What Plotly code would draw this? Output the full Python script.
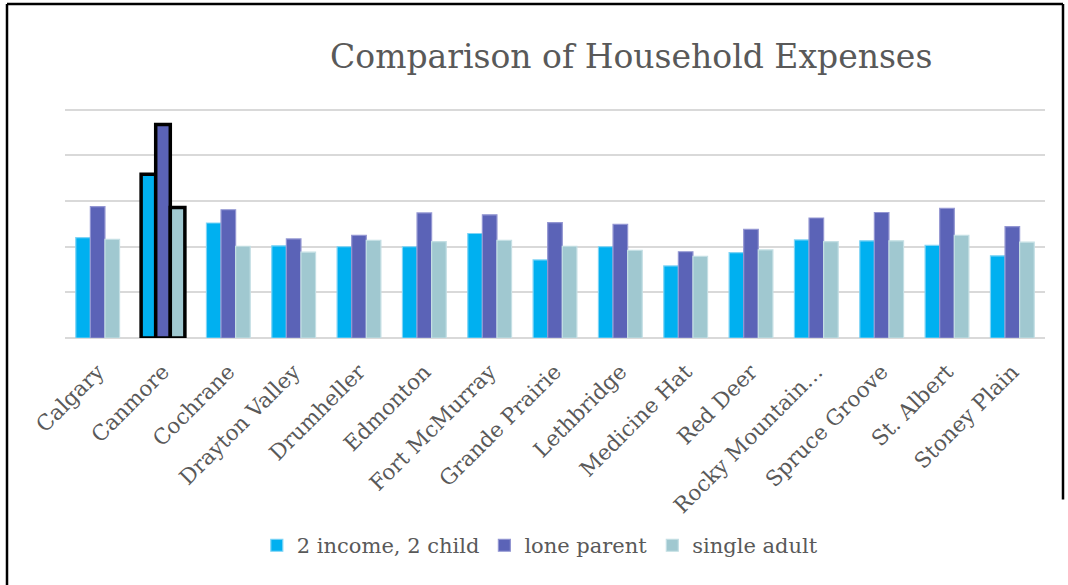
import plotly.graph_objects as go

categories = ["Calgary", "Canmore", "Cochrane", "Drayton Valley", "Drumheller",
              "Edmonton", "Fort McMurray", "Grande Prairie", "Lethbridge",
              "Medicine Hat", "Red Deer", "Rocky Mountain…", "Spruce Groove",
              "St. Albert", "Stoney Plain"]
two_income = [2.20, 3.59, 2.52, 2.02, 2.00, 2.00, 2.29, 1.71, 2.00, 1.58, 1.87, 2.15, 2.13, 2.03, 1.80]
lone_parent = [2.88, 4.68, 2.81, 2.17, 2.25, 2.74, 2.70, 2.53, 2.49, 1.89, 2.38, 2.63, 2.75, 2.84, 2.44]
single_adult = [2.16, 2.86, 2.01, 1.88, 2.14, 2.11, 2.14, 2.01, 1.92, 1.79, 1.93, 2.11, 2.13, 2.25, 2.10]
series_names = ["2 income, 2 child", "lone parent", "single adult"]
highlight = "Canmore"

colors = ["#00B0F0", "#5B63B7", "#A0C8D0"]
edge = ["#7FD4F5", "#9396D2", "#C4DFE4"]

fig = go.Figure()
for name, vals, c, e in zip(series_names, [two_income, lone_parent, single_adult], colors, edge):
    lc = ["#000000" if cat == highlight else e for cat in categories]
    lw = [3.5 if cat == highlight else 1.2 for cat in categories]
    fig.add_trace(go.Bar(name=name, x=categories, y=vals,
                         marker=dict(color=c, line=dict(color=lc, width=lw))))

font_fam = "DejaVu Serif, Liberation Serif, serif"
y_top = 5.04
base_px = 338.3
ph = 45.66 * y_top  # plot height in px
top_px = base_px - ph

fig.update_layout(
    width=1068, height=585,
    paper_bgcolor="white", plot_bgcolor="white",
    barmode="group", bargap=0.33, bargroupgap=0,
    margin=dict(l=65, r=23, t=top_px, b=585 - base_px, autoexpand=False),
    title=dict(text="Comparison of Household Expenses", x=0.591, xanchor="center",
               y=0.904, yanchor="middle",
               font=dict(family=font_fam, size=33, color="#595959")),
    showlegend=True,
    legend=dict(orientation="h", x=0.485, xanchor="center", y=-207.7 / ph, yanchor="middle",
                font=dict(family=font_fam, size=21, color="#595959"),
                traceorder="normal"),
    xaxis=dict(tickangle=-45, tickfont=dict(family=font_fam, size=21.5, color="#595959"),
               showline=False, showgrid=False, ticks="", automargin=False,
               ticklabelstandoff=16),
    yaxis=dict(range=[0, y_top], dtick=1, showticklabels=False, showgrid=True,
               gridcolor="#D9D9D9", gridwidth=1.5, zeroline=True, automargin=False,
               zerolinecolor="#D9D9D9", zerolinewidth=1.5, showline=False),
)


def px_x(x):
    return (x - 65) / 980


def px_y(y):
    return (base_px - y) / ph


# outer chart border
border = dict(color="black", width=2.5)
fig.add_shape(type="line", xref="paper", yref="paper",
              x0=px_x(7), x1=px_x(7), y0=px_y(590), y1=px_y(4), line=border)
fig.add_shape(type="line", xref="paper", yref="paper",
              x0=px_x(7), x1=px_x(1063), y0=px_y(4), y1=px_y(4), line=border)
fig.add_shape(type="line", xref="paper", yref="paper",
              x0=px_x(1063), x1=px_x(1063), y0=px_y(500), y1=px_y(4), line=border)

fig.write_html("out.html", config={"displayModeBar": False},
               post_script="document.body.style.margin='0px';")
